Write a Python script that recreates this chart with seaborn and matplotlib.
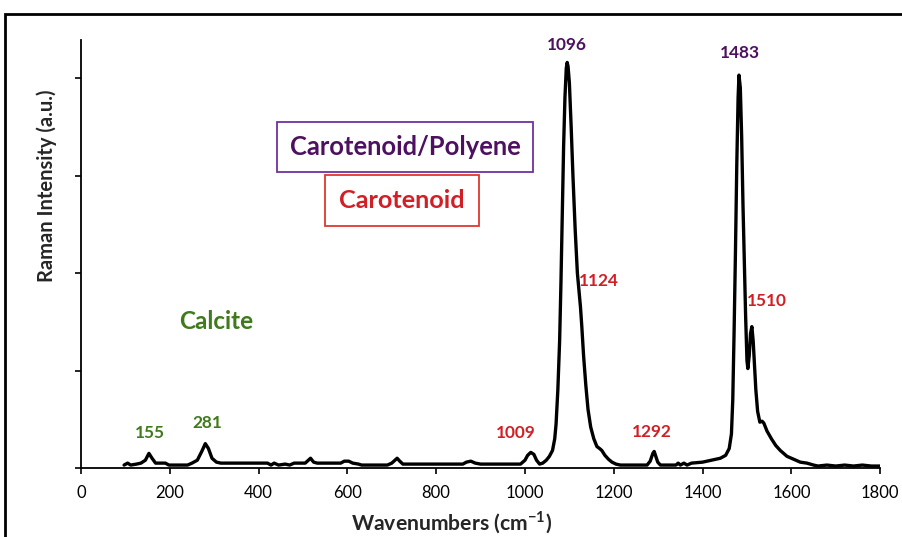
"""
Raman spectrum with carotenoid / calcite band assignments.
"""

import matplotlib

matplotlib.use("Agg")

import matplotlib.pyplot as plt
import pandas as pd
import seaborn as sns
from matplotlib.patches import Rectangle

# spectrum (intensity in thousands of counts, a.u.)
WAVENUMBER = [
    97, 105, 112, 125, 135, 145, 153, 160, 168, 190, 198, 240, 250, 262, 272,
    280, 287, 295, 305, 315, 420, 428, 435, 445, 460, 470, 480, 505, 512, 517,
    524, 532, 585, 593, 603, 612, 625, 632, 690, 700, 707, 712, 718, 725, 860,
    868, 878, 888, 900, 990, 1000, 1006, 1013, 1020, 1026, 1033, 1040, 1048,
    1055, 1062, 1067, 1070, 1074, 1078, 1081, 1084, 1087, 1090, 1093, 1095,
    1097, 1100, 1104, 1108, 1113, 1118, 1123, 1125, 1128, 1132, 1137, 1142,
    1148, 1155, 1162, 1168, 1173, 1180, 1188, 1196, 1205, 1215, 1275, 1282,
    1288, 1291, 1294, 1299, 1305, 1340, 1345, 1350, 1358, 1365, 1375, 1400,
    1420, 1440, 1452, 1460, 1465, 1468, 1471, 1474, 1477, 1480, 1482, 1485,
    1488, 1491, 1494, 1497, 1500, 1502, 1505, 1508, 1511, 1514, 1517, 1520,
    1524, 1529, 1534, 1538, 1545, 1555, 1565, 1575, 1590, 1605, 1620, 1635,
    1650, 1660, 1680, 1700, 1720, 1740, 1760, 1780, 1800,
]
INTENSITY = [
    0.03, 0.05, 0.03, 0.04, 0.05, 0.08, 0.15, 0.10, 0.05, 0.05, 0.03, 0.03,
    0.05, 0.08, 0.17, 0.25, 0.20, 0.10, 0.06, 0.05, 0.05, 0.03, 0.05, 0.03,
    0.04, 0.03, 0.05, 0.05, 0.08, 0.10, 0.06, 0.05, 0.05, 0.07, 0.07, 0.05,
    0.04, 0.03, 0.03, 0.05, 0.08, 0.10, 0.07, 0.04, 0.04, 0.06, 0.07, 0.05,
    0.04, 0.04, 0.08, 0.13, 0.16, 0.14, 0.08, 0.04, 0.05, 0.08, 0.12, 0.18,
    0.30, 0.45, 0.80, 1.30, 1.90, 2.60, 3.30, 3.80, 4.10, 4.16, 4.12, 3.95,
    3.50, 3.00, 2.45, 2.00, 1.75, 1.65, 1.45, 1.15, 0.85, 0.60, 0.42, 0.30,
    0.22, 0.20, 0.18, 0.13, 0.09, 0.06, 0.04, 0.03, 0.03, 0.07, 0.15, 0.17,
    0.13, 0.06, 0.03, 0.03, 0.05, 0.03, 0.05, 0.03, 0.05, 0.06, 0.08, 0.10,
    0.13, 0.20, 0.35, 0.70, 1.40, 2.20, 3.10, 3.80, 4.03, 3.90, 3.40, 2.70,
    2.10, 1.55, 1.10, 1.02, 1.15, 1.38, 1.45, 1.30, 1.05, 0.80, 0.58, 0.47,
    0.48, 0.46, 0.38, 0.30, 0.23, 0.18, 0.12, 0.09, 0.06, 0.05, 0.03, 0.02,
    0.03, 0.02, 0.03, 0.02, 0.03, 0.02, 0.02,
]

# peak labels: text, anchor (wavenumber, intensity), horizontal alignment, group
PEAK_TEXT = ["155", "281", "1009", "1096", "1124", "1292", "1483", "1510"]
PEAK_X = [155, 284, 980, 1095, 1122, 1286, 1484, 1500]
PEAK_Y = [0.36, 0.46, 0.36, 4.34, 1.92, 0.37, 4.26, 1.71]
PEAK_HA = ["center", "center", "center", "center", "left", "center", "center", "left"]
PEAK_GROUP = ["calcite", "calcite", "carotenoid", "polyene", "carotenoid",
              "carotenoid", "polyene", "carotenoid"]

X_TICKS = [0, 200, 400, 600, 800, 1000, 1200, 1400, 1600, 1800]
Y_TICKS = [0, 1, 2, 3, 4]

GREEN = "#3f7a1c"
RED = "#d21f26"
PURPLE = "#4e1060"
COLORS = {"calcite": GREEN, "carotenoid": RED, "polyene": PURPLE}


def main() -> None:
    sns.set_theme(style="ticks")
    plt.rcParams["font.family"] = ["Lato", "DejaVu Sans"]
    plt.rcParams["mathtext.fontset"] = "custom"
    plt.rcParams["mathtext.rm"] = "Lato"
    plt.rcParams["mathtext.bf"] = "Lato:bold"

    df = pd.DataFrame({"wavenumber": WAVENUMBER, "intensity": INTENSITY})

    fig = plt.figure(figsize=(9.02, 5.37), dpi=100)
    ax = fig.add_axes([0.0898, 0.1285, 0.886, 0.797])

    sns.lineplot(data=df, x="wavenumber", y="intensity", ax=ax,
                 color="black", linewidth=2.4)

    ax.set_xlim(0, 1800)
    ax.set_ylim(0, 4.39)
    ax.set_xticks(X_TICKS)
    ax.set_yticks(Y_TICKS)
    ax.set_yticklabels([])
    ax.tick_params(axis="x", labelsize=12, length=4, width=1.2, colors="black", pad=8)
    ax.tick_params(axis="y", length=4, width=1.2, colors="black")
    for side in ["top", "right"]:
        ax.spines[side].set_visible(False)
    for side in ["left", "bottom"]:
        ax.spines[side].set_linewidth(1.3)
        ax.spines[side].set_color("black")

    ax.set_xlabel(r"Wavenumbers (cm$^{\mathbf{-1}}$)", fontsize=15.2,
                  fontweight="bold")
    ax.xaxis.set_label_coords(0.464, -0.097)
    ax.set_ylabel("Raman Intensity (a.u.)", fontsize=14.5, fontweight="bold")
    ax.yaxis.set_label_coords(-0.03, 0.66)

    for txt, x, y, ha, grp in zip(PEAK_TEXT, PEAK_X, PEAK_Y, PEAK_HA, PEAK_GROUP):
        ax.text(x, y, txt, color=COLORS[grp], fontsize=12.4, fontweight="bold",
                ha=ha, va="center")

    ax.text(304, 1.5, "Calcite", color=GREEN, fontsize=17.5, fontweight="bold",
            ha="center", va="center")
    ax.text(730, 3.29, "Carotenoid/Polyene", color=PURPLE, fontsize=18.4,
            fontweight="bold", ha="center", va="center",
            bbox=dict(boxstyle="square,pad=0.5", facecolor="white",
                      edgecolor="#7030a0", linewidth=1.3))
    ax.text(723, 2.74, "Carotenoid", color=RED, fontsize=18.2,
            fontweight="bold", ha="center", va="center",
            bbox=dict(boxstyle="square,pad=0.55", facecolor="white",
                      edgecolor="#e0382e", linewidth=1.3))

    # outer frame around the whole figure (right / bottom edges run off the image)
    fig.patches.append(Rectangle((5 / 902, -0.1), 1.2, 0.974 + 0.1,
                                 transform=fig.transFigure, fill=False,
                                 edgecolor="black", linewidth=2.0))

    fig.savefig("out.png", dpi=100)
    plt.close(fig)


if __name__ == "__main__":
    main()
